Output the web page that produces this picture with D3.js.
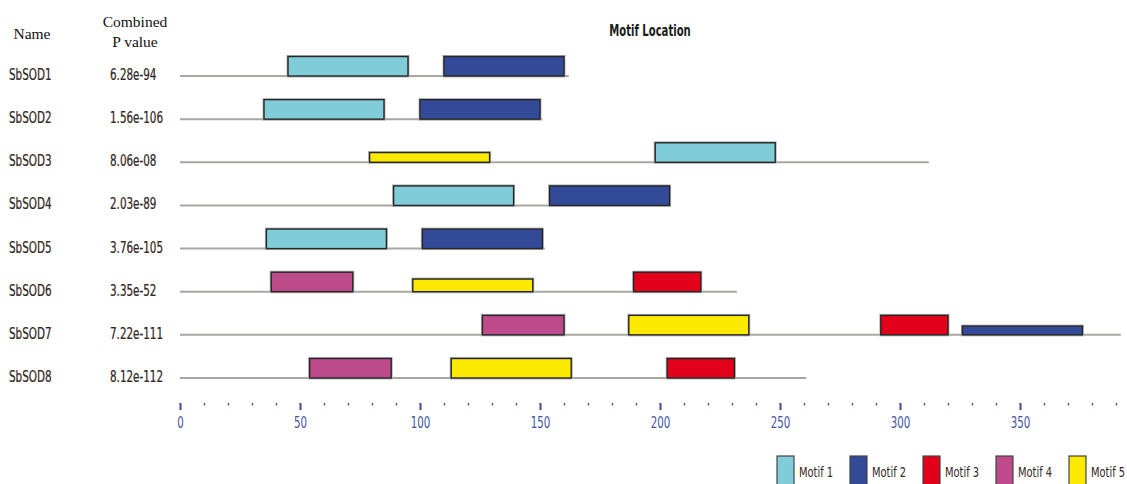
<!DOCTYPE html>
<html>
<head>
<meta charset="utf-8">
<script src="https://cdn.jsdelivr.net/npm/d3@7"></script>
<style>
  html, body { margin: 0; padding: 0; background: #fff; }
  svg { display: block; }
</style>
</head>
<body>
<svg id="chart" width="1127" height="484"></svg>
<script>
// Gene names, combined p-values and protein lengths (aa)
const genes = ["SbSOD1", "SbSOD2", "SbSOD3", "SbSOD4", "SbSOD5", "SbSOD6", "SbSOD7", "SbSOD8"];
const pValues = ["6.28e-94", "1.56e-106", "8.06e-08", "2.03e-89", "3.76e-105", "3.35e-52", "7.22e-111", "8.12e-112"];
const seqLengths = [162, 151, 312, 204, 152, 232, 392, 261];

// Motifs
const motifNames = ["Motif 1", "Motif 2", "Motif 3", "Motif 4", "Motif 5"];
const motifColors = ["#80cdd9", "#324a98", "#e2001a", "#bd4b8c", "#fbe900"];
const motifWidths = [50, 50, 28, 34, 50];

// Motif sites: gene index, motif number, start position, relative site strength
const siteGene     = [0, 0, 1, 1, 2, 2, 3, 3, 4, 4, 5, 5, 5, 6, 6, 6, 6, 7, 7, 7];
const siteMotif    = [1, 2, 1, 2, 5, 1, 1, 2, 1, 2, 4, 5, 3, 4, 5, 3, 2, 4, 5, 3];
const siteStart    = [45, 110, 35, 100, 79, 198, 89, 154, 36, 101, 38, 97, 189, 126, 187, 292, 326, 54, 113, 203];
const siteStrength = [1, 1, 1, 1, 0.5, 1, 1, 1, 1, 1, 1, 0.65, 1, 1, 1, 1, 0.45, 1, 1, 1];

// Axis ticks
const majorTicks = [0, 50, 100, 150, 200, 250, 300, 350];
const minorTicks = d3.range(10, 400, 10).filter(v => v % 50 !== 0);

const svg = d3.select("#chart");
const sans = "'DejaVu Sans Condensed', 'DejaVu Sans', sans-serif";
const serif = "'Liberation Serif', 'Times New Roman', serif";

const x = d3.scaleLinear().domain([0, 390]).range([180, 1116]);
const y = d3.scalePoint().domain(genes).range([76, 378]);
const h = d3.scaleLinear().domain([0, 1]).range([0, 19.5]);

// Column headers
svg.append("text").attr("x", 32).attr("y", 39).attr("text-anchor", "middle")
  .attr("font-family", serif).attr("font-size", 15.5).attr("fill", "#111").text("Name");
svg.append("text").attr("x", 135).attr("y", 27).attr("text-anchor", "middle")
  .attr("font-family", serif).attr("font-size", 15.5).attr("fill", "#111").text("Combined");
svg.append("text").attr("x", 135).attr("y", 47).attr("text-anchor", "middle")
  .attr("font-family", serif).attr("font-size", 15.5).attr("fill", "#111").text("P value");

// Title
svg.append("g").attr("transform", "translate(650,30) scale(0.7,1)")
  .append("text").attr("text-anchor", "middle").attr("dominant-baseline", "central")
  .attr("font-family", sans).attr("font-weight", "bold").attr("font-size", 16)
  .attr("fill", "#1c1c1c").text("Motif Location");

// Row labels
const rows = svg.append("g");
genes.forEach((g, i) => {
  const yy = y(g) - 1;
  rows.append("g").attr("transform", `translate(9,${yy}) scale(0.77,1)`)
    .append("text").attr("dominant-baseline", "central")
    .attr("font-family", sans).attr("font-size", 15).attr("fill", "#33281f")
    .attr("stroke", "#33281f").attr("stroke-width", 0.25).text(g);
  rows.append("g").attr("transform", `translate(110,${yy}) scale(0.77,1)`)
    .append("text").attr("dominant-baseline", "central")
    .attr("font-family", sans).attr("font-size", 15).attr("fill", "#33281f")
    .attr("stroke", "#33281f").attr("stroke-width", 0.25).text(pValues[i]);
});

// Sequence lines
svg.append("g").selectAll("line").data(genes).join("line")
  .attr("x1", x(0)).attr("x2", (g, i) => x(seqLengths[i]))
  .attr("y1", g => y(g)).attr("y2", g => y(g))
  .attr("stroke", "#a7a7a2").attr("stroke-width", 2);

// Motif boxes
const sites = siteGene.map((gi, k) => ({
  gene: genes[gi], motif: siteMotif[k], start: siteStart[k], strength: siteStrength[k]
}));
const boxes = svg.append("g").selectAll("g").data(sites).join("g");
boxes.append("rect")
  .attr("x", d => x(d.start))
  .attr("y", d => y(d.gene) - h(d.strength))
  .attr("width", d => x(d.start + motifWidths[d.motif - 1]) - x(d.start))
  .attr("height", d => h(d.strength))
  .attr("fill", "none").attr("stroke", "#b4b4b4").attr("stroke-width", 3);
boxes.append("rect")
  .attr("x", d => x(d.start))
  .attr("y", d => y(d.gene) - h(d.strength))
  .attr("width", d => x(d.start + motifWidths[d.motif - 1]) - x(d.start))
  .attr("height", d => h(d.strength))
  .attr("fill", d => motifColors[d.motif - 1])
  .attr("stroke", "#262626").attr("stroke-width", 1.4);

// Position axis
const axisY = 403;
const tickColor = "#3a4a9a";
const minorAxis = svg.append("g").attr("transform", `translate(0,${axisY})`)
  .call(d3.axisBottom(x).tickValues(minorTicks).tickSize(2.5).tickFormat(""));
const majorAxis = svg.append("g").attr("transform", `translate(0,${axisY})`)
  .call(d3.axisBottom(x).tickValues(majorTicks).tickSize(7).tickPadding(7).tickFormat(d3.format("d")));
[minorAxis, majorAxis].forEach(a => {
  a.select(".domain").remove();
  a.selectAll(".tick line").attr("stroke", tickColor);
});
minorAxis.selectAll(".tick line").attr("stroke-width", 1.3);
majorAxis.selectAll(".tick line").attr("stroke-width", 2);
majorAxis.selectAll(".tick text")
  .attr("font-family", sans).attr("font-size", 15).attr("fill", "#4553a0")
  .attr("transform", "scale(0.76,1)");

// Legend
const legend = svg.append("g").selectAll("g").data(motifNames).join("g")
  .attr("transform", (d, i) => `translate(${777 + i * 73},456)`);
legend.append("rect").attr("width", 17).attr("height", 30)
  .attr("fill", (d, i) => motifColors[i])
  .attr("stroke", "#444").attr("stroke-width", 1.2);
legend.append("g").attr("transform", "translate(22,16) scale(0.76,1)")
  .append("text").attr("dominant-baseline", "central")
  .attr("font-family", sans).attr("font-size", 14.5).attr("fill", "#33281f")
  .text(d => d);
</script>
</body>
</html>
